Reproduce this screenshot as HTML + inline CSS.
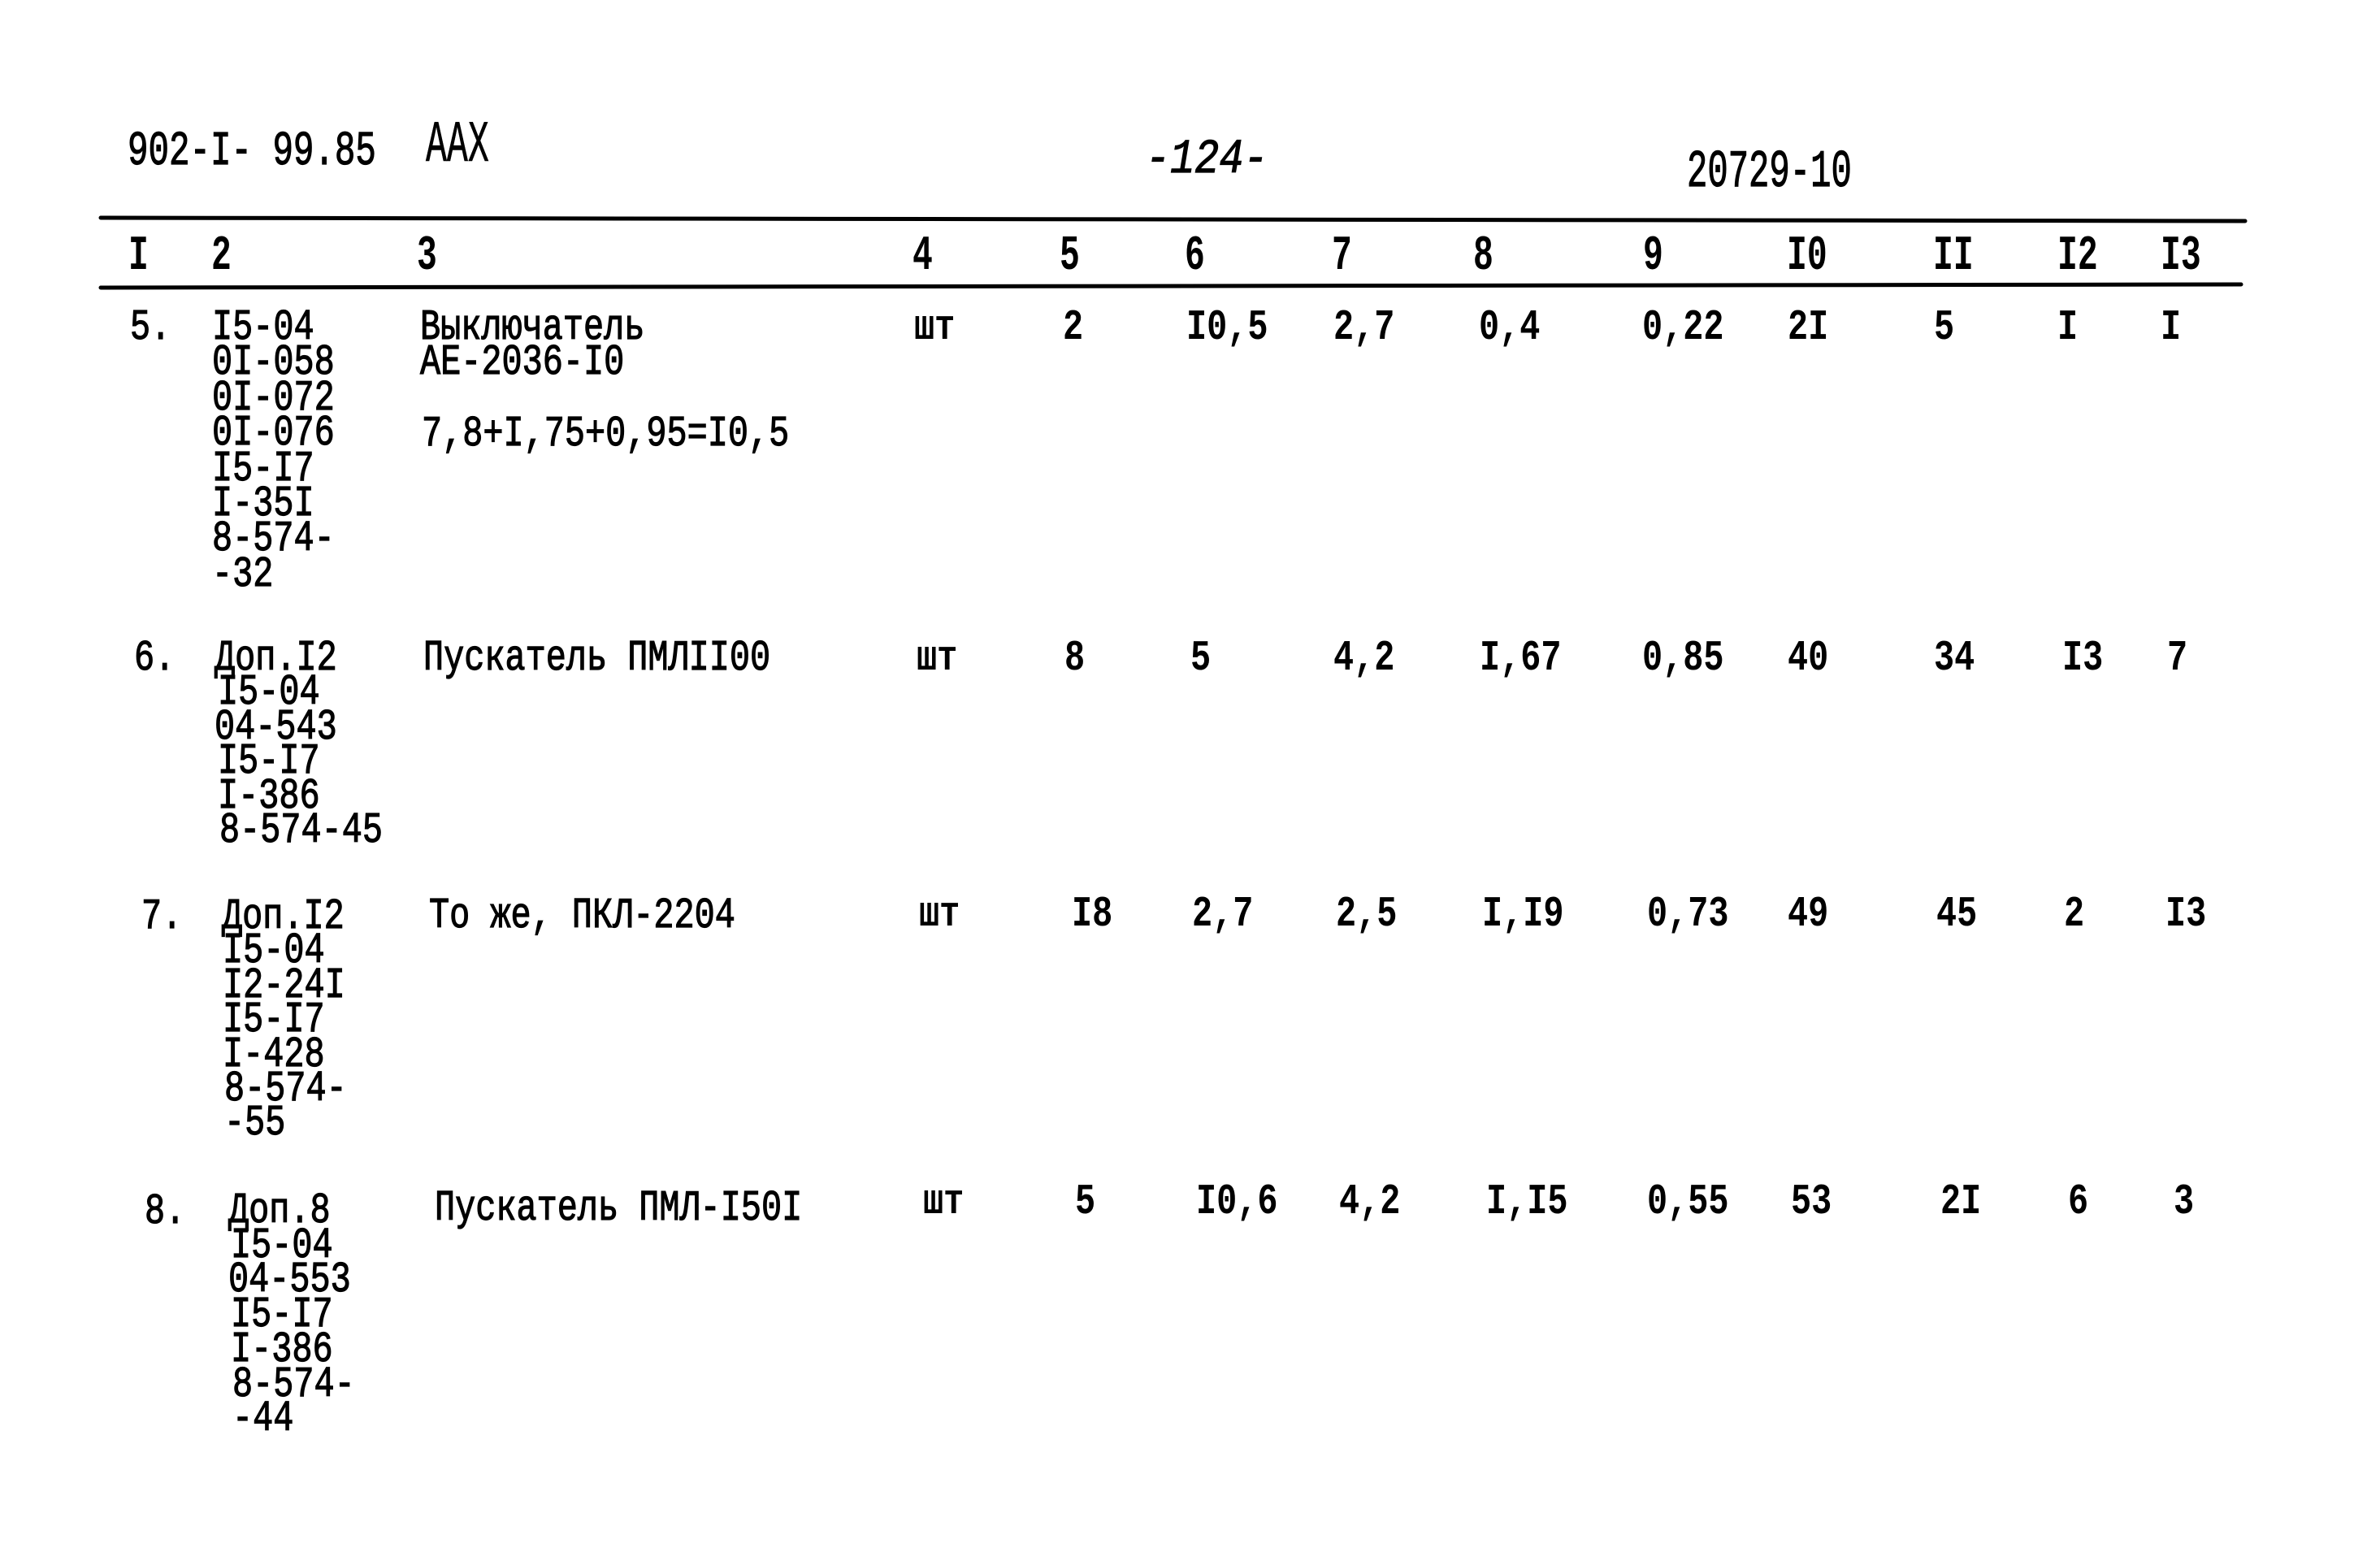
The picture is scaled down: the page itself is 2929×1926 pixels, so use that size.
<!DOCTYPE html>
<html>
<head>
<meta charset="utf-8">
<style>
  html,body{margin:0;padding:0;background:#fff;}
  body{width:2929px;height:1926px;position:relative;overflow:hidden;}
  .t{position:absolute;white-space:pre;font-family:"Liberation Mono","DejaVu Sans Mono",monospace;color:#000;transform-origin:0 0;}
  .b{font-size:53px;line-height:53px;transform:scaleX(0.79);}
  .r{font-weight:normal;-webkit-text-stroke:1.2px #000;}
  .n{font-weight:bold;}
  .h{font-size:60px;line-height:60px;transform:scaleX(0.69);font-weight:bold;}
</style>
</head>
<body>
<svg width="2929" height="1926" style="position:absolute;left:0;top:0">
  <line x1="124" y1="268" x2="2763" y2="272" stroke="#000" stroke-width="5" stroke-linecap="round"/>
  <line x1="124" y1="354" x2="2758" y2="350" stroke="#000" stroke-width="5" stroke-linecap="round"/>
</svg>

<!-- page header -->
<div class="t r" style="left:157px;top:157px;font-size:59px;line-height:59px;transform:scaleX(0.72);">902-I- 99.85</div>
<div class="t" style="left:524px;top:143px;font-size:72px;line-height:72px;transform:scaleX(0.6);-webkit-text-stroke:0.6px #000;">AAX</div>
<div class="t r" style="left:1410px;top:167px;font-size:59px;line-height:59px;transform:scaleX(0.85);font-style:italic;">-124-</div>
<div class="t r" style="left:2076px;top:180px;font-size:65px;line-height:65px;transform:scaleX(0.65);">20729-10</div>

<!-- column headers -->
<div class="t h" style="left:158px;top:286px;">I</div>
<div class="t h" style="left:260px;top:286px;">2</div>
<div class="t h" style="left:513px;top:286px;">3</div>
<div class="t h" style="left:1123px;top:286px;">4</div>
<div class="t h" style="left:1304px;top:286px;">5</div>
<div class="t h" style="left:1458px;top:286px;">6</div>
<div class="t h" style="left:1639px;top:286px;">7</div>
<div class="t h" style="left:1813px;top:286px;">8</div>
<div class="t h" style="left:2022px;top:286px;">9</div>
<div class="t h" style="left:2199px;top:286px;">I0</div>
<div class="t h" style="left:2379px;top:286px;">II</div>
<div class="t h" style="left:2532px;top:286px;">I2</div>
<div class="t h" style="left:2659px;top:286px;">I3</div>

<!-- Row 5 -->
<div class="t b r" style="left:160px;top:377px;">5.</div>
<div class="t b r" style="left:261px;top:377px;">I5-04</div>
<div class="t b r" style="left:261px;top:420px;">0I-058</div>
<div class="t b r" style="left:261px;top:464px;">0I-072</div>
<div class="t b r" style="left:261px;top:507px;">0I-076</div>
<div class="t b r" style="left:261px;top:551px;">I5-I7</div>
<div class="t b r" style="left:261px;top:594px;">I-35I</div>
<div class="t b r" style="left:261px;top:637px;">8-574-</div>
<div class="t b r" style="left:261px;top:681px;">-32</div>
<div class="t b r" style="left:517px;top:377px;">Выключатель</div>
<div class="t b r" style="left:517px;top:420px;">АЕ-2036-I0</div>
<div class="t b r" style="left:519px;top:508px;">7,8+I,75+0,95=I0,5</div>
<div class="t b n" style="left:1125px;top:377px;">шт</div>
<div class="t b n" style="left:1308px;top:377px;">2</div>
<div class="t b n" style="left:1460px;top:377px;">I0,5</div>
<div class="t b n" style="left:1641px;top:377px;">2,7</div>
<div class="t b n" style="left:1820px;top:377px;">0,4</div>
<div class="t b n" style="left:2021px;top:377px;">0,22</div>
<div class="t b n" style="left:2200px;top:377px;">2I</div>
<div class="t b n" style="left:2380px;top:377px;">5</div>
<div class="t b n" style="left:2532px;top:377px;">I</div>
<div class="t b n" style="left:2659px;top:377px;">I</div>

<!-- Row 6 -->
<div class="t b r" style="left:165px;top:784px;">6.</div>
<div class="t b r" style="left:264px;top:784px;">Доп.I2</div>
<div class="t b r" style="left:268px;top:826px;">I5-04</div>
<div class="t b r" style="left:264px;top:869px;">04-543</div>
<div class="t b r" style="left:268px;top:911px;">I5-I7</div>
<div class="t b r" style="left:268px;top:954px;">I-386</div>
<div class="t b r" style="left:270px;top:996px;">8-574-45</div>
<div class="t b r" style="left:521px;top:784px;">Пускатель ПМЛII00</div>
<div class="t b n" style="left:1128px;top:784px;">шт</div>
<div class="t b n" style="left:1310px;top:784px;">8</div>
<div class="t b n" style="left:1465px;top:784px;">5</div>
<div class="t b n" style="left:1641px;top:784px;">4,2</div>
<div class="t b n" style="left:1821px;top:784px;">I,67</div>
<div class="t b n" style="left:2021px;top:784px;">0,85</div>
<div class="t b n" style="left:2200px;top:784px;">40</div>
<div class="t b n" style="left:2380px;top:784px;">34</div>
<div class="t b n" style="left:2538px;top:784px;">I3</div>
<div class="t b n" style="left:2667px;top:784px;">7</div>

<!-- Row 7 -->
<div class="t b r" style="left:174px;top:1102px;">7.</div>
<div class="t b r" style="left:273px;top:1102px;">Доп.I2</div>
<div class="t b r" style="left:274px;top:1144px;">I5-04</div>
<div class="t b r" style="left:274px;top:1187px;">I2-24I</div>
<div class="t b r" style="left:274px;top:1229px;">I5-I7</div>
<div class="t b r" style="left:274px;top:1272px;">I-428</div>
<div class="t b r" style="left:276px;top:1314px;">8-574-</div>
<div class="t b r" style="left:276px;top:1356px;">-55</div>
<div class="t b r" style="left:528px;top:1101px;">То же, ПКЛ-2204</div>
<div class="t b n" style="left:1131px;top:1099px;">шт</div>
<div class="t b n" style="left:1319px;top:1099px;">I8</div>
<div class="t b n" style="left:1467px;top:1099px;">2,7</div>
<div class="t b n" style="left:1644px;top:1099px;">2,5</div>
<div class="t b n" style="left:1824px;top:1099px;">I,I9</div>
<div class="t b n" style="left:2027px;top:1099px;">0,73</div>
<div class="t b n" style="left:2200px;top:1099px;">49</div>
<div class="t b n" style="left:2383px;top:1099px;">45</div>
<div class="t b n" style="left:2540px;top:1099px;">2</div>
<div class="t b n" style="left:2665px;top:1099px;">I3</div>

<!-- Row 8 -->
<div class="t b r" style="left:178px;top:1465px;">8.</div>
<div class="t b r" style="left:281px;top:1464px;">Доп.8</div>
<div class="t b r" style="left:284px;top:1507px;">I5-04</div>
<div class="t b r" style="left:281px;top:1549px;">04-553</div>
<div class="t b r" style="left:284px;top:1592px;">I5-I7</div>
<div class="t b r" style="left:284px;top:1635px;">I-386</div>
<div class="t b r" style="left:286px;top:1678px;">8-574-</div>
<div class="t b r" style="left:286px;top:1720px;">-44</div>
<div class="t b r" style="left:535px;top:1461px;">Пускатель ПМЛ-I50I</div>
<div class="t b n" style="left:1136px;top:1453px;">шт</div>
<div class="t b n" style="left:1323px;top:1453px;">5</div>
<div class="t b n" style="left:1472px;top:1453px;">I0,6</div>
<div class="t b n" style="left:1648px;top:1453px;">4,2</div>
<div class="t b n" style="left:1829px;top:1453px;">I,I5</div>
<div class="t b n" style="left:2027px;top:1453px;">0,55</div>
<div class="t b n" style="left:2204px;top:1453px;">53</div>
<div class="t b n" style="left:2388px;top:1453px;">2I</div>
<div class="t b n" style="left:2545px;top:1453px;">6</div>
<div class="t b n" style="left:2675px;top:1453px;">3</div>
</body>
</html>
